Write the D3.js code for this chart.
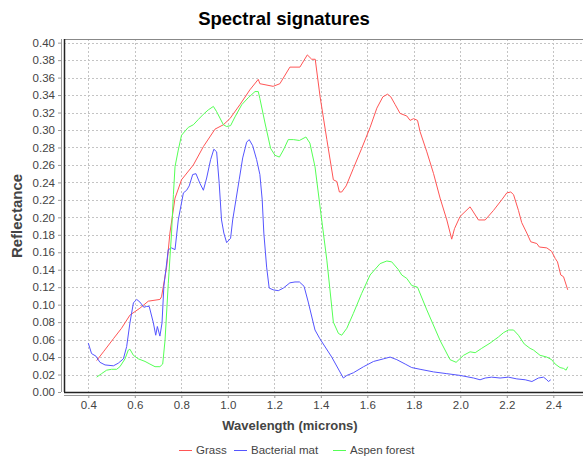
<!DOCTYPE html>
<html>
<head>
<meta charset="utf-8">
<script src="https://cdn.jsdelivr.net/npm/d3@7"></script>
<style>
  body { margin: 0; background: #fff; }
  svg { display: block; font-family: "Liberation Sans", Arial, sans-serif; }
</style>
</head>
<body>
<div id="chart"></div>
<script>
// series data (wavelength in microns, reflectance)
const grassWl = [0.436, 0.465, 0.508, 0.543, 0.579, 0.622, 0.658, 0.708, 0.715, 0.737, 0.751, 0.773, 0.801, 0.852, 0.895, 0.945, 0.981, 1.009, 1.052, 1.095, 1.131, 1.138, 1.195, 1.224, 1.267, 1.310, 1.342, 1.361, 1.376, 1.397, 1.426, 1.454, 1.469, 1.480, 1.490, 1.509, 1.540, 1.576, 1.612, 1.641, 1.667, 1.687, 1.701, 1.720, 1.741, 1.770, 1.784, 1.799, 1.816, 1.827, 1.856, 1.885, 1.913, 1.942, 1.963, 1.975, 1.999, 2.042, 2.078, 2.107, 2.143, 2.178, 2.200, 2.217, 2.229, 2.250, 2.264, 2.286, 2.303, 2.329, 2.340, 2.372, 2.393, 2.408, 2.418, 2.432, 2.444, 2.462];
const grassRefl = [0.036, 0.046, 0.061, 0.073, 0.088, 0.096, 0.104, 0.106, 0.109, 0.143, 0.182, 0.222, 0.243, 0.260, 0.281, 0.301, 0.306, 0.313, 0.329, 0.346, 0.358, 0.353, 0.350, 0.353, 0.372, 0.372, 0.386, 0.381, 0.381, 0.338, 0.289, 0.243, 0.241, 0.229, 0.229, 0.236, 0.256, 0.279, 0.303, 0.325, 0.338, 0.341, 0.338, 0.329, 0.319, 0.316, 0.311, 0.313, 0.311, 0.298, 0.275, 0.250, 0.222, 0.197, 0.175, 0.187, 0.201, 0.212, 0.197, 0.197, 0.208, 0.220, 0.228, 0.229, 0.226, 0.208, 0.194, 0.182, 0.172, 0.170, 0.166, 0.165, 0.161, 0.153, 0.149, 0.134, 0.132, 0.117];

const matWl = [0.400, 0.414, 0.433, 0.450, 0.472, 0.508, 0.529, 0.551, 0.565, 0.579, 0.594, 0.608, 0.622, 0.639, 0.651, 0.662, 0.680, 0.690, 0.697, 0.708, 0.717, 0.725, 0.744, 0.758, 0.773, 0.787, 0.809, 0.823, 0.834, 0.849, 0.863, 0.880, 0.895, 0.909, 0.926, 0.940, 0.952, 0.963, 0.973, 0.983, 0.995, 1.012, 1.021, 1.035, 1.049, 1.064, 1.081, 1.092, 1.107, 1.124, 1.138, 1.148, 1.155, 1.167, 1.178, 1.195, 1.217, 1.239, 1.267, 1.289, 1.308, 1.328, 1.346, 1.375, 1.396, 1.447, 1.497, 1.512, 1.540, 1.584, 1.627, 1.670, 1.698, 1.727, 1.763, 1.791, 1.827, 1.885, 1.942, 1.999, 2.057, 2.085, 2.107, 2.135, 2.171, 2.207, 2.243, 2.279, 2.308, 2.336, 2.358, 2.372, 2.379, 2.389];
const matRefl = [0.056, 0.044, 0.041, 0.034, 0.031, 0.030, 0.033, 0.038, 0.052, 0.079, 0.102, 0.106, 0.103, 0.097, 0.098, 0.098, 0.079, 0.065, 0.075, 0.064, 0.079, 0.121, 0.163, 0.165, 0.163, 0.197, 0.228, 0.231, 0.236, 0.249, 0.250, 0.239, 0.231, 0.245, 0.266, 0.278, 0.275, 0.239, 0.197, 0.182, 0.171, 0.176, 0.197, 0.220, 0.243, 0.268, 0.286, 0.289, 0.282, 0.266, 0.249, 0.220, 0.182, 0.143, 0.119, 0.117, 0.116, 0.119, 0.125, 0.126, 0.126, 0.121, 0.103, 0.071, 0.061, 0.040, 0.016, 0.019, 0.022, 0.029, 0.035, 0.038, 0.040, 0.037, 0.032, 0.028, 0.026, 0.023, 0.021, 0.019, 0.016, 0.014, 0.016, 0.017, 0.016, 0.017, 0.015, 0.014, 0.012, 0.016, 0.017, 0.014, 0.012, 0.014];

const aspenWl = [0.436, 0.457, 0.479, 0.500, 0.522, 0.536, 0.558, 0.572, 0.579, 0.594, 0.615, 0.644, 0.665, 0.687, 0.708, 0.720, 0.730, 0.744, 0.758, 0.766, 0.773, 0.787, 0.801, 0.830, 0.852, 0.873, 0.895, 0.916, 0.938, 0.952, 0.981, 0.995, 1.012, 1.031, 1.060, 1.088, 1.117, 1.131, 1.138, 1.160, 1.184, 1.203, 1.222, 1.239, 1.260, 1.282, 1.308, 1.336, 1.353, 1.375, 1.393, 1.400, 1.426, 1.454, 1.476, 1.490, 1.512, 1.540, 1.576, 1.612, 1.655, 1.684, 1.705, 1.734, 1.748, 1.770, 1.791, 1.816, 1.856, 1.913, 1.956, 1.982, 2.014, 2.042, 2.064, 2.092, 2.128, 2.164, 2.186, 2.207, 2.229, 2.250, 2.275, 2.300, 2.315, 2.343, 2.372, 2.393, 2.408, 2.429, 2.444, 2.455, 2.462];
const aspenRefl = [0.017, 0.021, 0.025, 0.026, 0.026, 0.029, 0.038, 0.048, 0.049, 0.042, 0.038, 0.035, 0.032, 0.029, 0.029, 0.032, 0.059, 0.124, 0.182, 0.226, 0.258, 0.277, 0.294, 0.303, 0.306, 0.312, 0.318, 0.323, 0.327, 0.321, 0.306, 0.304, 0.305, 0.315, 0.329, 0.337, 0.344, 0.344, 0.336, 0.308, 0.279, 0.271, 0.269, 0.277, 0.289, 0.289, 0.288, 0.292, 0.285, 0.258, 0.220, 0.205, 0.151, 0.080, 0.067, 0.065, 0.073, 0.090, 0.113, 0.134, 0.147, 0.150, 0.149, 0.140, 0.134, 0.130, 0.122, 0.120, 0.094, 0.059, 0.037, 0.034, 0.042, 0.046, 0.045, 0.050, 0.056, 0.063, 0.068, 0.071, 0.071, 0.065, 0.055, 0.050, 0.048, 0.042, 0.040, 0.037, 0.032, 0.028, 0.027, 0.025, 0.029];

const seriesNames = ['Grass', 'Bacterial mat', 'Aspen forest'];
const seriesColors = ['#ff5555', '#5555ff', '#55ff55'];
const xTicks = [0.4, 0.6, 0.8, 1.0, 1.2, 1.4, 1.6, 1.8, 2.0, 2.2, 2.4];
const yTicks = d3.range(0, 0.4001, 0.02);

const W = 583, H = 456;
const plot = { left: 64, top: 39, right: 584, bottom: 392 };

const svg = d3.select('#chart').append('svg')
  .attr('width', W)
  .attr('height', H);

const x = d3.scaleLinear().domain([0.2955, 2.532]).range([plot.left, plot.right]);
const y = d3.scaleLinear().domain([0, 0.4042]).range([plot.bottom, plot.top]);

// gridlines
const grid = svg.append('g').attr('stroke', '#c4c4c4').attr('stroke-dasharray', '2,2').attr('stroke-width', 1);
grid.selectAll('.gx').data(xTicks).enter().append('line')
  .attr('x1', d => Math.round(x(d)) + 0.5).attr('x2', d => Math.round(x(d)) + 0.5)
  .attr('y1', plot.top).attr('y2', plot.bottom);
grid.selectAll('.gy').data(yTicks.slice(1)).enter().append('line')
  .attr('y1', d => Math.round(y(d)) + 0.5).attr('y2', d => Math.round(y(d)) + 0.5)
  .attr('x1', plot.left).attr('x2', plot.right);

// plot outline
svg.append('line').attr('x1', plot.left).attr('x2', plot.right).attr('y1', plot.top + 0.5).attr('y2', plot.top + 0.5)
  .attr('stroke', '#888');
svg.append('line').attr('x1', plot.left + 0.5).attr('x2', plot.left + 0.5).attr('y1', plot.top).attr('y2', plot.bottom)
  .attr('stroke', '#222').attr('stroke-width', 1.5);
svg.append('line').attr('x1', plot.left).attr('x2', plot.right).attr('y1', plot.bottom + 0.5).attr('y2', plot.bottom + 0.5)
  .attr('stroke', '#222').attr('stroke-width', 1.5);

// axes
const xAxis = d3.axisBottom(x).tickValues(xTicks).tickFormat(d3.format('.1f')).tickSize(3).tickPadding(3);
const yAxis = d3.axisLeft(y).tickValues(yTicks).tickFormat(d3.format('.2f')).tickSize(3).tickPadding(3);

const gx = svg.append('g').attr('transform', `translate(0,${plot.bottom + 3})`).call(xAxis);
const gy = svg.append('g').attr('transform', `translate(${plot.left - 3},0)`).call(yAxis);
[gx, gy].forEach(g => {
  g.select('.domain').attr('stroke', '#999');
  g.selectAll('.tick line').attr('stroke', '#999');
  g.selectAll('.tick text').attr('fill', '#444').style('font-size', '11.5px')
    .style('font-family', '"Liberation Sans", Arial, sans-serif');
});
gx.select('.domain').attr('d', `M${plot.left},0.5H${plot.right}`);
gy.select('.domain').attr('d', `M0.5,${plot.top}V${plot.bottom}`);

// series lines
const seriesData = [
  d3.zip(grassWl, grassRefl),
  d3.zip(matWl, matRefl),
  d3.zip(aspenWl, aspenRefl)
];
const line = d3.line().x(d => x(d[0])).y(d => y(d[1]));
svg.append('g').selectAll('path').data(seriesData).enter().append('path')
  .attr('d', line)
  .attr('fill', 'none')
  .attr('stroke', (d, i) => seriesColors[i])
  .attr('stroke-width', 1);

// titles
svg.append('text').attr('x', 284).attr('y', 25).attr('text-anchor', 'middle')
  .style('font-size', '18.5px').style('font-weight', 'bold').attr('fill', '#000')
  .text('Spectral signatures');
svg.append('text').attr('x', 290).attr('y', 430).attr('text-anchor', 'middle')
  .style('font-size', '13px').style('font-weight', 'bold').attr('fill', '#444')
  .text('Wavelength (microns)');
svg.append('text').attr('transform', 'translate(22,216) rotate(-90)').attr('text-anchor', 'middle')
  .style('font-size', '15px').style('font-weight', 'bold').attr('fill', '#444')
  .text('Reflectance');

// legend
const legendX = [179, 234, 333];
const legend = svg.append('g').selectAll('g').data(seriesNames).enter().append('g')
  .attr('transform', (d, i) => `translate(${legendX[i]},450)`);
legend.append('line').attr('x1', 0).attr('x2', 13).attr('y1', 0.5).attr('y2', 0.5)
  .attr('stroke', (d, i) => seriesColors[i]);
legend.append('text').attr('x', 17).attr('y', 4).style('font-size', '11.5px').attr('fill', '#444')
  .text(d => d);
</script>
</body>
</html>
